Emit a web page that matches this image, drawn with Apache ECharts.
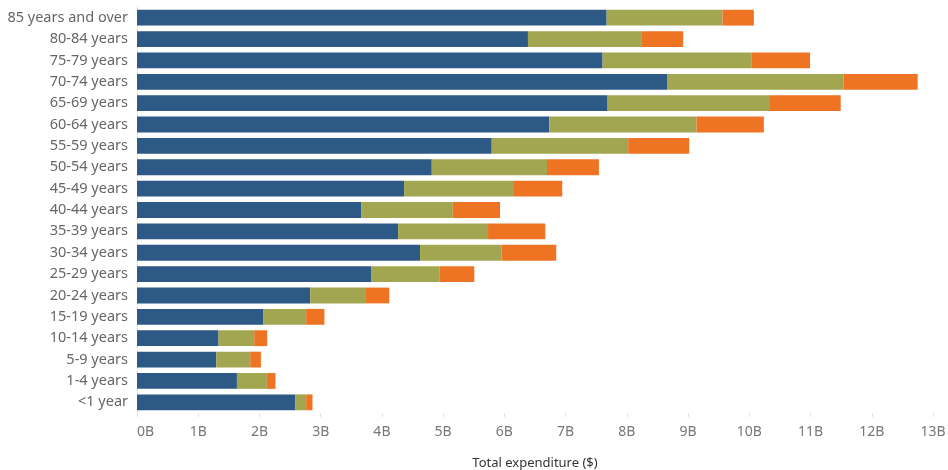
<!DOCTYPE html>
<html>
<head>
<meta charset="utf-8">
<script src="https://cdn.jsdelivr.net/npm/echarts@6/dist/echarts.min.js"></script>
<style>html,body{margin:0;padding:0;background:#fff}#c{width:948px;height:470px}</style>
</head>
<body>
<div id="c"></div>
<script>
const categories = ["85 years and over","80-84 years","75-79 years","70-74 years","65-69 years","60-64 years","55-59 years","50-54 years","45-49 years","40-44 years","35-39 years","30-34 years","25-29 years","20-24 years","15-19 years","10-14 years","5-9 years","1-4 years","<1 year"];
const seriesBlue   = [7.670,6.385,7.604,8.665,7.686,6.733,5.793,4.814,4.362,3.665,4.264,4.623,3.823,2.828,2.066,1.332,1.294,1.632,2.588];
const seriesOlive  = [1.893,1.861,2.437,2.872,2.637,2.405,2.229,1.882,1.795,1.492,1.469,1.333,1.115,0.898,0.697,0.582,0.555,0.489,0.175];
const seriesOrange = [0.511,0.674,0.951,1.213,1.170,1.099,0.996,0.848,0.788,0.772,0.935,0.891,0.571,0.394,0.298,0.212,0.175,0.141,0.103];
const xTicks = {min:0, max:13, interval:1};
const FONT = "Noto Sans";
const chart = echarts.init(document.getElementById('c'));
function s(name, data, color){
  return {name, type:'bar', stack:'total', data, barCategoryGap:'26%',
    itemStyle:{color}, emphasis:{disabled:true}};
}
chart.setOption({
  animation:false,
  textStyle:{fontFamily:FONT},
  grid:{left:137, right:15, top:7, bottom:57, containLabel:false, outerBoundsMode:'none'},
  xAxis:{type:'value', min:xTicks.min, max:xTicks.max, interval:xTicks.interval,
    name:'Total expenditure ($)', nameLocation:'middle', nameGap:44,
    nameTextStyle:{color:'#333', fontSize:13, fontFamily:FONT},
    axisLine:{show:false},
    axisTick:{show:true, length:4, lineStyle:{color:'#e2e2e2'}},
    splitLine:{show:false},
    axisLabel:{formatter:v=>v+'B', color:'#777', fontSize:14, margin:12, alignMinLabel:'left', fontFamily:FONT}
  },
  yAxis:{type:'category', data:categories, inverse:true,
    axisLine:{show:true, lineStyle:{color:'#e6e6e6'}},
    axisTick:{show:false},
    axisLabel:{color:'#666', fontSize:14.5, margin:9, fontFamily:FONT}
  },
  series:[
    s('Blue', seriesBlue, '#2c5986'),
    s('Olive', seriesOlive, '#a3a651'),
    s('Orange', seriesOrange, '#ee7424')
  ]
});
</script>
</body>
</html>
